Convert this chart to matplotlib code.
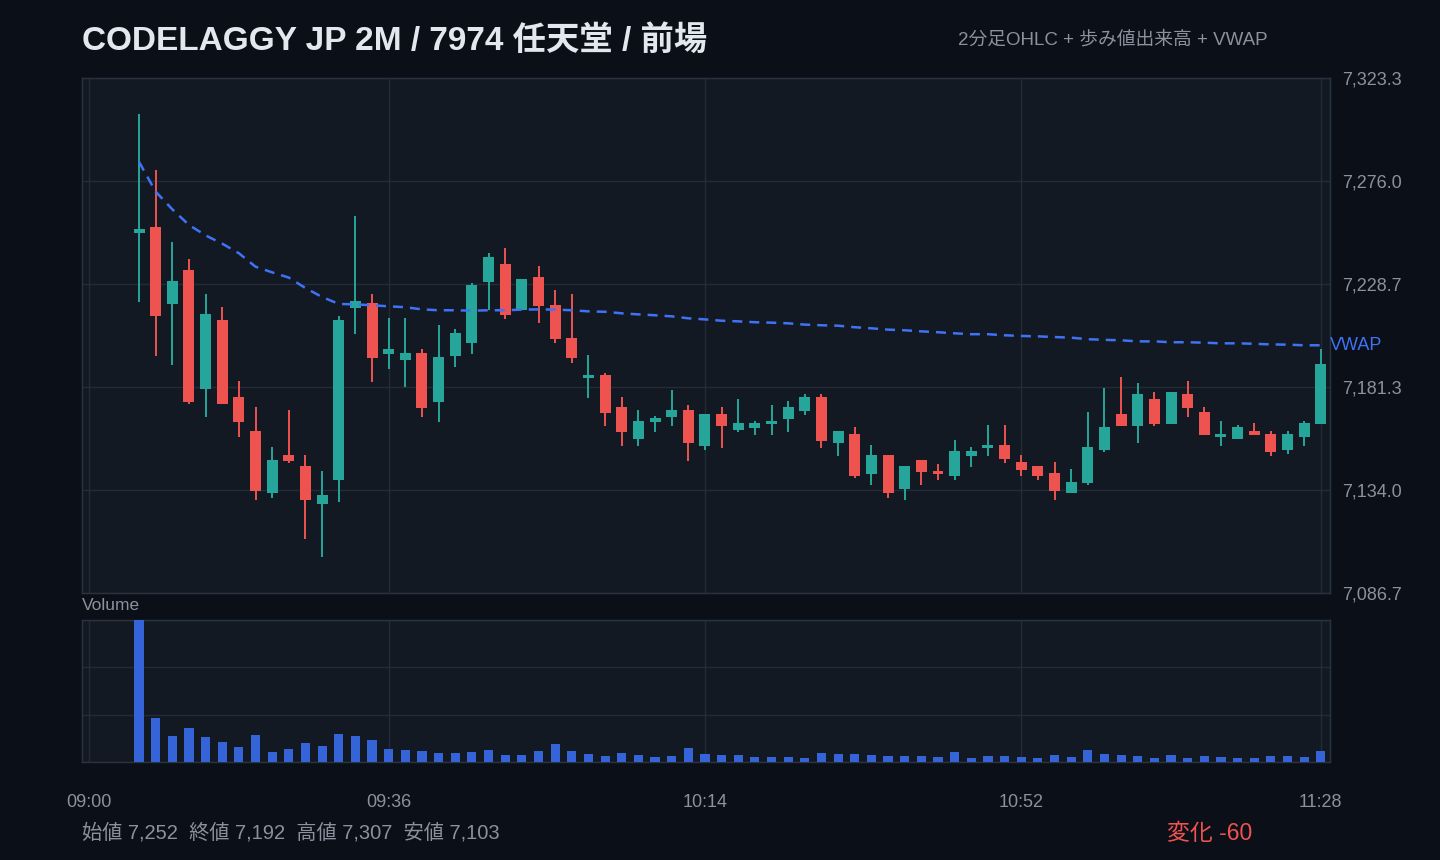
import numpy as np
import matplotlib
matplotlib.use("Agg")
import matplotlib.pyplot as plt
from matplotlib.patches import Rectangle

plt.rcParams['font.family'] = ['Liberation Sans', 'Noto Sans CJK JP', 'DejaVu Sans']

# --- data: 2-minute bars, 09:06 .. 11:28 (minutes after 09:00) ---
bar_minutes = np.arange(6, 149, 2)

opens = [7252, 7255, 7219.5, 7235, 7180.4, 7212, 7176.8, 7161, 7132.6, 7150,
         7145, 7127.6, 7138.6, 7217.6, 7220, 7196.5, 7193.7, 7197, 7174.4, 7195.6,
         7201.6, 7229.6, 7237.9, 7216.7, 7231.9, 7219, 7203.9, 7185.5, 7186.9, 7172.2,
         7157.5, 7165.3, 7167.6, 7170.8, 7154.2, 7169, 7161.6, 7162.5, 7164.3, 7166.6,
         7170.3, 7176.8, 7155.6, 7159.8, 7141.4, 7150.1, 7134.5, 7147.8, 7142.8, 7140.5,
         7149.6, 7153.3, 7154.7, 7146.9, 7145.1, 7141.8, 7132.6, 7137.2, 7152.4, 7169,
         7163.4, 7175.8, 7164.3, 7178.1, 7169.9, 7158.4, 7157.5, 7161.1, 7159.8, 7152.4,
         7158.4, 7164.3]
highs = [7307, 7281, 7248, 7240, 7224, 7218, 7184, 7172, 7153.8, 7170.8,
         7150, 7142.8, 7214, 7260, 7224, 7213, 7213, 7198.8, 7209.8, 7208,
         7229.1, 7242.9, 7245.2, 7231, 7236.9, 7225.9, 7224.1, 7196, 7187.8, 7176.8,
         7170.8, 7168, 7180, 7173.1, 7169, 7172.2, 7175.8, 7165.7, 7173.1, 7174.9,
         7178.1, 7178.1, 7161.1, 7162.9, 7154.7, 7150.1, 7145.1, 7147.8, 7146, 7157,
         7153.8, 7163.9, 7163.9, 7150.1, 7145.1, 7146.9, 7143.7, 7169.9, 7180.9, 7185.9,
         7183.2, 7179, 7179, 7184.1, 7172.2, 7165.7, 7163.9, 7164.8, 7161.1, 7161.1,
         7165.7, 7198.8]
lows = [7220.5, 7195.6, 7191.4, 7173.5, 7167.6, 7173.5, 7158.4, 7129.4, 7130.4, 7146.4,
        7111.5, 7103, 7128.5, 7205.7, 7183.6, 7189.6, 7181.3, 7167.6, 7165.3, 7190.5,
        7196.5, 7216.7, 7212.6, 7216.7, 7210.7, 7201.6, 7192.4, 7176.3, 7163.4, 7154.2,
        7154.2, 7160.7, 7163.4, 7147.3, 7152.4, 7153.3, 7160.7, 7159.3, 7159.3, 7160.7,
        7168.5, 7153.3, 7149.6, 7139.5, 7136.3, 7130.4, 7129.4, 7136.3, 7138.6, 7138.6,
        7144.6, 7149.6, 7146.4, 7140.5, 7138.6, 7129.4, 7132.6, 7136.3, 7151.5, 7163.4,
        7155.6, 7163.4, 7164.3, 7167.6, 7159.3, 7154.2, 7157.5, 7159.3, 7149.6, 7150.6,
        7154.2, 7164.3]
closes = [7254, 7214, 7230, 7174.5, 7215, 7173.5, 7165.3, 7133.6, 7147.8, 7147.3,
          7129.4, 7131.7, 7212, 7221, 7194.7, 7198.8, 7197, 7171.7, 7195, 7206.2,
          7228.2, 7241.1, 7214.4, 7231, 7218.5, 7203.4, 7194.7, 7186.9, 7169.4, 7160.7,
          7165.7, 7167.1, 7170.8, 7155.6, 7169, 7163.4, 7164.8, 7164.8, 7165.7, 7172.2,
          7176.8, 7156.5, 7161.1, 7140.5, 7150.1, 7132.6, 7145.1, 7142.3, 7141.4, 7151.9,
          7151.9, 7154.7, 7148.3, 7143.2, 7140.5, 7133.6, 7137.7, 7153.8, 7162.9, 7163.4,
          7178.1, 7164.3, 7179, 7171.7, 7159.3, 7159.8, 7162.9, 7159.3, 7151.5, 7159.8,
          7164.8, 7192]
volumes = [42800, 13400, 7700, 10100, 7400, 5900, 4400, 8000, 2900, 3800,
           5600, 4700, 8300, 7700, 6500, 3800, 3500, 3200, 2600, 2600,
           2900, 3500, 2000, 2000, 3200, 5300, 3200, 2300, 1700, 2600,
           2000, 1400, 1700, 4100, 2300, 2000, 2000, 1400, 1400, 1400,
           1100, 2600, 2300, 2300, 2000, 1700, 1700, 1700, 1400, 2900,
           1100, 1700, 1700, 1400, 1100, 2000, 1400, 3500, 2300, 2000,
           1700, 1100, 2000, 1100, 1700, 1400, 1100, 1100, 1700, 1700,
           1400, 3200]
vwap = [7284.8, 7271.1, 7263.0, 7255.8, 7251.0, 7247.2, 7242.8, 7236.6, 7234.0, 7231.6,
        7226.8, 7222.7, 7219.5, 7219.3, 7218.9, 7218.4, 7218.0, 7217.0, 7216.6, 7216.6,
        7216.4, 7216.6, 7216.6, 7216.9, 7217.0, 7216.9, 7216.6, 7216.1, 7215.9, 7215.2,
        7214.7, 7214.3, 7213.8, 7212.9, 7212.4, 7211.8, 7211.5, 7211.1, 7210.9, 7210.6,
        7210.0, 7209.7, 7209.5, 7208.8, 7208.3, 7207.7, 7207.4, 7206.9, 7206.5, 7206.0,
        7205.6, 7205.6, 7205.1, 7204.8, 7204.6, 7204.3, 7204.0, 7203.3, 7203.0, 7202.8,
        7202.3, 7202.3, 7201.9, 7201.9, 7201.7, 7201.4, 7201.4, 7201.2, 7200.9, 7200.8,
        7200.5, 7200.5]

tick_minutes = [0, 36, 74, 112, 148]
tick_labels = ["09:00", "09:36", "10:14", "10:52", "11:28"]

# --- colours ---
BG = "#0b0f17"
PANEL = "#121922"
GRID = "#222c38"
SPINE = "#2a3440"
TXT = "#8a929e"
UP = "#26a69a"
DOWN = "#ef5350"
VWAP_C = "#3f72f5"
VOL_C = "#3563d8"

fig = plt.figure(figsize=(14.4, 8.6), dpi=100, facecolor=BG)
ax = fig.add_axes([82/1440, 1-593/860, 1248/1440, 515/860])
axv = fig.add_axes([82/1440, 1-762/860, 1248/1440, 142/860], sharex=ax)

lo, hi = min(lows), max(highs)
pad = (hi - lo) * 0.08
ymin, ymax = lo - pad, hi + pad

body_w = 1.32
for m, o, h, l, c in zip(bar_minutes, opens, highs, lows, closes):
    col = UP if c >= o else DOWN
    ax.vlines(m, l, h, color=col, lw=1.4, zorder=3)
    bottom = min(o, c)
    height = max(abs(c - o), 0.9)
    ax.add_patch(Rectangle((m - body_w/2, bottom), body_w, height,
                           facecolor=col, edgecolor='none', zorder=4))

ax.plot(bar_minutes, vwap, color=VWAP_C, lw=1.8, dashes=(4, 2.8), zorder=5)
ax.annotate("VWAP", xy=(1.0, vwap[-1]), xycoords=('axes fraction', 'data'),
            xytext=(0, 0), textcoords='offset points', color=VWAP_C,
            fontsize=13, va='center', ha='left', annotation_clip=False)

ax.set_xlim(-0.85, 149.1)
ax.set_ylim(ymin, ymax)
yt = np.linspace(ymin, ymax, 6)
ax.set_yticks(yt)
ax.set_yticklabels([f"{v:,.1f}" for v in yt])
ax.yaxis.tick_right()
ax.tick_params(axis='y', length=0, pad=9, labelsize=13, labelcolor=TXT)
ax.tick_params(axis='x', length=0, labelbottom=False)
ax.set_xticks(tick_minutes)

axv.bar(bar_minutes, volumes, width=1.1, color=VOL_C, zorder=3)
vmax = max(volumes)
axv.set_ylim(0, vmax)
axv.set_yticks(np.linspace(0, vmax, 4))
axv.tick_params(axis='y', length=0, labelright=False, labelleft=False)
axv.set_xticks(tick_minutes)
axv.set_xticklabels(tick_labels)
axv.tick_params(axis='x', length=0, pad=23, labelsize=13, labelcolor=TXT)

for a in (ax, axv):
    a.set_facecolor(PANEL)
    a.grid(True, color=GRID, lw=1)
    a.set_axisbelow(True)
    for s in a.spines.values():
        s.set_color(SPINE)
        s.set_linewidth(1)

fig.text(82/1440, 1-41/860, "CODELAGGY JP 2M / 7974 任天堂 / 前場",
         color="#e4e8ee", fontsize=24, fontweight='bold', va='center', ha='left')
fig.text(1268/1440, 1-40/860, "2分足OHLC + 歩み値出来高 + VWAP",
         color=TXT, fontsize=13.5, va='center', ha='right')
fig.text(82/1440, 1-606/860, "Volume", color=TXT, fontsize=12.5, va='center', ha='left')

o0, c0 = opens[0], closes[-1]
fig.text(82/1440, 1-833/860,
         f"始値 {o0:,.0f}  終値 {c0:,.0f}  高値 {hi:,.0f}  安値 {lo:,.0f}",
         color=TXT, fontsize=14.5, va='center', ha='left')
chg = c0 - o0
fig.text(1252/1440, 1-833/860, f"変化 {chg:+,.0f}".replace("+", ""),
         color=DOWN if chg < 0 else UP, fontsize=16.5, va='center', ha='right')

fig.savefig("out.png", dpi=100, facecolor=BG)
